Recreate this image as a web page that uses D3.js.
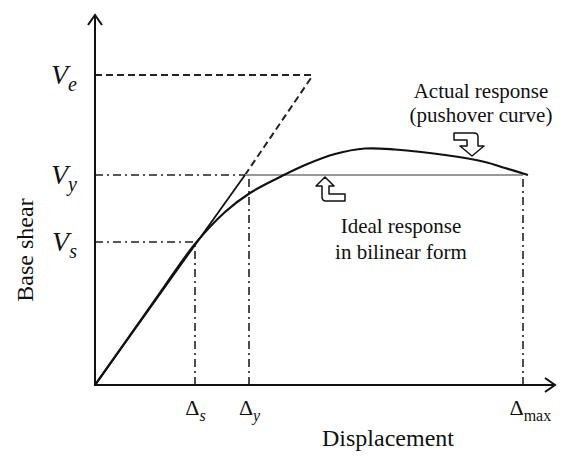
<!DOCTYPE html>
<html>
<head>
<meta charset="utf-8">
<script src="https://cdn.jsdelivr.net/npm/d3@7"></script>
<style>
  body { margin: 0; background: #fff; }
</style>
</head>
<body>
<svg width="579" height="463" font-family="Liberation Serif, serif"></svg>
<script>
// tick labels (symbol + subscript) and their values
var xTickSym = ["\u0394", "\u0394", "\u0394"];
var xTickSub = ["s", "y", "max"];
var xTickVal = [1.0, 1.54, 4.28];

var yTickSym = ["V", "V", "V"];
var yTickSub = ["e", "y", "s"];
var yTickVal = [3.1, 2.1, 1.43];

// pushover curve (displacement, base shear)
var curveX = [0, 0.6, 1.0, 1.3, 1.55, 1.85, 2.1, 2.4, 2.7, 3.0, 3.5, 3.9, 4.1, 4.33];
var curveY = [0, 0.85, 1.41, 1.73, 1.92, 2.08, 2.2, 2.31, 2.365, 2.355, 2.3, 2.23, 2.17, 2.1];

// elastic line end and bilinear corner
var elasticEnd = [2.18, 3.1];
var bilinearX = [0, 1.5, 4.28];
var bilinearY = [0, 2.1, 2.1];

var svg = d3.select("svg"),
    x0 = 95, y0 = 385,
    serif = "Liberation Serif";

var x = d3.scaleLinear().domain([0, 4.6]).range([x0, x0 + 460]);
var y = d3.scaleLinear().domain([0, 3.7]).range([y0, y0 - 370]);

var dashDot = "8,4,2,4";

// dash-dot guide lines
var g = svg.append("g").attr("stroke", "#222").attr("stroke-width", 1.6).attr("fill", "none");
// Vs horizontal + Δs vertical
g.append("line").attr("x1", x(0)).attr("y1", y(yTickVal[2])).attr("x2", x(xTickVal[0])).attr("y2", y(yTickVal[2])).attr("stroke-dasharray", dashDot);
g.append("line").attr("x1", x(xTickVal[0])).attr("y1", y(0)).attr("x2", x(xTickVal[0])).attr("y2", y(yTickVal[2])).attr("stroke-dasharray", dashDot);
// Vy horizontal + Δy vertical
g.append("line").attr("x1", x(0)).attr("y1", y(yTickVal[1])).attr("x2", x(bilinearX[1])).attr("y2", y(yTickVal[1])).attr("stroke-dasharray", dashDot);
g.append("line").attr("x1", x(xTickVal[1])).attr("y1", y(0)).attr("x2", x(xTickVal[1])).attr("y2", y(yTickVal[1])).attr("stroke-dasharray", dashDot);
// Δmax vertical
g.append("line").attr("x1", x(xTickVal[2])).attr("y1", y(0)).attr("x2", x(xTickVal[2])).attr("y2", y(yTickVal[1])).attr("stroke-dasharray", dashDot);

// Ve dashed horizontal + dashed elastic extension
g.append("line").attr("x1", x(0)).attr("y1", y(yTickVal[0])).attr("x2", x(elasticEnd[0])).attr("y2", y(elasticEnd[1]))
  .attr("stroke-dasharray", "7,4").attr("stroke-width", 2);
g.append("line").attr("x1", x(bilinearX[1])).attr("y1", y(bilinearY[1])).attr("x2", x(elasticEnd[0])).attr("y2", y(elasticEnd[1]))
  .attr("stroke-dasharray", "7,4").attr("stroke-width", 2);

// ideal bilinear response
svg.append("line").attr("x1", x(bilinearX[1])).attr("y1", y(bilinearY[1])).attr("x2", x(bilinearX[2])).attr("y2", y(bilinearY[2]))
  .attr("stroke", "#999").attr("stroke-width", 2.2);
svg.append("line").attr("x1", x(bilinearX[0])).attr("y1", y(bilinearY[0])).attr("x2", x(bilinearX[1])).attr("y2", y(bilinearY[1]))
  .attr("stroke", "#111").attr("stroke-width", 1.8);

// pushover curve
var pts = curveX.map(function(d, i) { return [d, curveY[i]]; });
svg.append("path")
  .datum(pts)
  .attr("fill", "none")
  .attr("stroke", "#111")
  .attr("stroke-width", 2.2)
  .attr("d", d3.line().x(function(d) { return x(d[0]); }).y(function(d) { return y(d[1]); }).curve(d3.curveCatmullRom.alpha(0.5)));

// axes (labels from d3 axes, domain drawn as arrows)
var xAxis = svg.append("g").attr("transform", "translate(0," + y0 + ")")
  .call(d3.axisBottom(x).tickValues(xTickVal).tickSize(0).tickPadding(14));
xAxis.select(".domain").remove();
xAxis.selectAll(".tick text").each(function(d, i) {
  var t = d3.select(this).text("").attr("font-size", 22).attr("font-family", serif).attr("fill", "#111");
  t.append("tspan").text(xTickSym[i]);
  t.append("tspan").text(xTickSub[i]).attr("dy", 6).attr("font-size", 16)
    .attr("font-style", xTickSub[i] == "max" ? "normal" : "italic");
  if (xTickSub[i] == "max") t.attr("text-anchor", "start").attr("x", -14);
});

var yAxis = svg.append("g").attr("transform", "translate(" + x0 + ",0)")
  .call(d3.axisLeft(y).tickValues(yTickVal).tickSize(0).tickPadding(18));
yAxis.select(".domain").remove();
yAxis.selectAll(".tick text").each(function(d, i) {
  var t = d3.select(this).text("").attr("font-size", 28).attr("font-family", serif)
    .attr("font-style", "italic").attr("fill", "#111").attr("dy", "0.3em");
  t.append("tspan").text(yTickSym[i]);
  t.append("tspan").text(yTickSub[i]).attr("dy", 7).attr("font-size", 20);
});

var ax = svg.append("g").attr("stroke", "#111").attr("stroke-width", 2).attr("fill", "none");
ax.append("line").attr("x1", x0).attr("y1", y0 + 1).attr("x2", x0).attr("y2", 15);
ax.append("path").attr("d", "M" + (x0 - 7) + ",25 L" + x0 + ",15 L" + (x0 + 7) + ",25");
ax.append("line").attr("x1", x0 - 1).attr("y1", y0).attr("x2", 555).attr("y2", y0);
ax.append("path").attr("d", "M545," + (y0 - 7) + " L555," + y0 + " L545," + (y0 + 7));

// axis titles
function label(xp, yp, size, s) {
  return svg.append("text").attr("x", xp).attr("y", yp).attr("text-anchor", "middle")
    .attr("font-family", serif).attr("font-size", size).attr("fill", "#111").text(s);
}
label(388, 446, 24, "Displacement");
label(0, 0, 24, "Base shear").attr("transform", "translate(33,250) rotate(-90)");

// annotations
label(481, 98, 21, "Actual response");
label(481, 122, 21, "(pushover curve)");
label(401, 233, 21, "Ideal response");
label(401, 259, 21, "in bilinear form");

// hollow bent arrows
var arr = svg.append("g").attr("fill", "#fff").attr("stroke", "#111").attr("stroke-width", 1.5).attr("stroke-linejoin", "round");
// pointing down (actual response)
arr.append("path").attr("d", "M454,133 L474,133 Q478,133 478,137 L478,146 L484,146 L472,156 L460,146 L467,146 L467,140 L454,140 Z");
// pointing up (ideal response)
arr.append("path").attr("d", "M325,177 L334,186 L329,186 L329,194 L345,194 L345,201 L326,201 Q322,201 322,197 L322,186 L316,186 Z");
</script>
</body>
</html>
